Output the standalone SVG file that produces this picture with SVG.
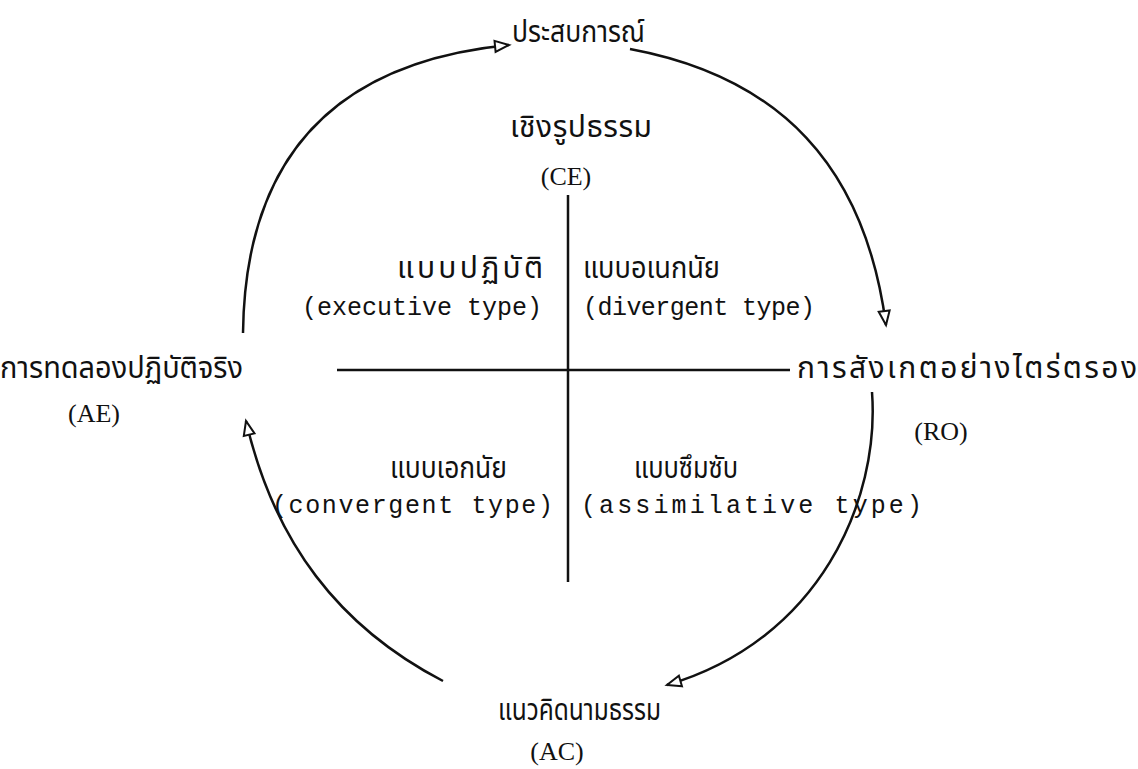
<svg xmlns="http://www.w3.org/2000/svg" width="1138" height="769" viewBox="0 0 1138 769">
<style>
.th{font-family:"Noto Sans Thai","Noto Serif Thai","Loma","Garuda","Norasi","Noto Sans",sans-serif;font-size:30px;fill:#111}
.en{font-family:"Liberation Mono","DejaVu Sans Mono",monospace;font-size:25px;fill:#111}
.ab{font-family:"Liberation Serif","DejaVu Serif",serif;font-size:26px;fill:#111}
.ln{fill:none;stroke:#111;stroke-width:2.5}
.arc{fill:none;stroke:#111;stroke-width:2.5;marker-end:url(#tri)}
</style>
<defs>
<marker id="tri" markerUnits="userSpaceOnUse" markerWidth="20" markerHeight="16" refX="15" refY="6" orient="auto" overflow="visible">
<path d="M1,0.5 L15,6 L1,11.5 Z" fill="#fff" stroke="#111" stroke-width="2"/>
</marker>
</defs>
<rect width="1138" height="769" fill="#fff"/>
<g id="connectors">
<path class="arc" d="M243,333 C245,158 334,62 509,45"/>
<path class="arc" d="M630,49 C780,77 865,166 886,325"/>
<path class="arc" d="M872,392 C880,500 820,640 667,685"/>
<path class="arc" d="M443,681 C339,627 274,542 246,421"/>
<line class="ln" x1="568" y1="195" x2="568" y2="582"/>
<line class="ln" x1="337" y1="370" x2="790" y2="370"/>
</g>
<g id="node-ce">
<text class="th" x="512" y="42" textLength="133" lengthAdjust="spacingAndGlyphs">ประสบการณ์</text>
<text class="th" x="510" y="137" textLength="142" lengthAdjust="spacing">เชิงรูปธรรม</text>
<text class="ab" x="566" y="185" text-anchor="middle">(CE)</text>
</g>
<g id="node-ro">
<text class="th" x="797" y="378" textLength="340" lengthAdjust="spacing">การสังเกตอย่างไตร่ตรอง</text>
<text class="ab" x="941" y="440" text-anchor="middle">(RO)</text>
</g>
<g id="node-ac">
<text class="th" x="498" y="720" textLength="163" lengthAdjust="spacingAndGlyphs">แนวคิดนามธรรม</text>
<text class="ab" x="557" y="760" text-anchor="middle">(AC)</text>
</g>
<g id="node-ae">
<text class="th" x="0" y="378" textLength="243" lengthAdjust="spacingAndGlyphs">การทดลองปฏิบัติจริง</text>
<text class="ab" x="94" y="422" text-anchor="middle">(AE)</text>
</g>
<g id="quad-executive">
<text class="th" x="397" y="278" textLength="146" lengthAdjust="spacing">แบบปฏิบัติ</text>
<text class="en" x="302" y="315">(executive type)</text>
</g>
<g id="quad-divergent">
<text class="th" x="583" y="278" textLength="137" lengthAdjust="spacingAndGlyphs">แบบอเนกนัย</text>
<text class="en" x="583" y="315" textLength="232" lengthAdjust="spacing">(divergent type)</text>
</g>
<g id="quad-convergent">
<text class="th" x="390" y="478" textLength="117" lengthAdjust="spacingAndGlyphs">แบบเอกนัย</text>
<text class="en" x="272" y="513" textLength="281" lengthAdjust="spacing">(convergent type)</text>
</g>
<g id="quad-assimilative">
<text class="th" x="634" y="478" textLength="104" lengthAdjust="spacingAndGlyphs">แบบซึมซับ</text>
<text class="en" x="581" y="513" textLength="341" lengthAdjust="spacing">(assimilative type)</text>
</g>
</svg>
